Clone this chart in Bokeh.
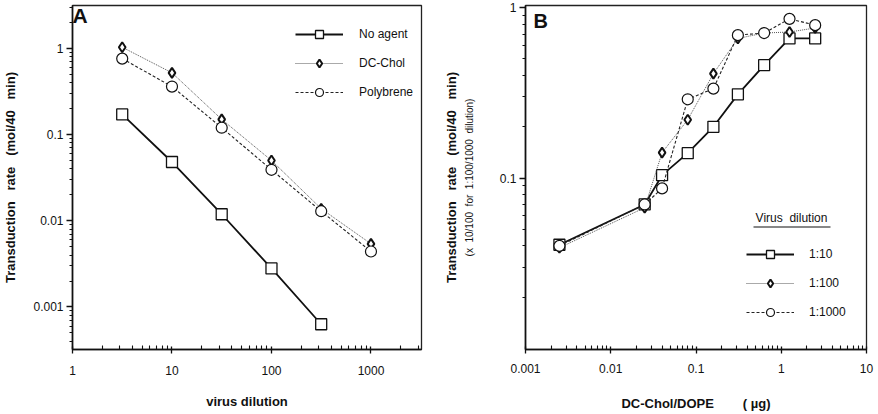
from bokeh.plotting import figure
from bokeh.layouts import row
from bokeh.models import (FixedTicker, NumeralTickFormatter, Legend, LegendItem,
                          Label, LogAxis, BoxAnnotation, Range1d)
from bokeh.embed import file_html
from bokeh.resources import INLINE

FONT = "Liberation Sans"
SP = "\u00a0"  # non-breaking space keeps the wide word gaps in SVG text

# ---- Panel A: transduction rate vs virus dilution ----
dilution = [3.16, 10, 31.6, 100, 316, 1000]
rate_no_agent = [0.171, 0.048, 0.0119, 0.0028, 0.00063]
rate_dc_chol = [1.03, 0.52, 0.15, 0.050, 0.0138, 0.0054]
rate_polybrene = [0.76, 0.36, 0.12, 0.039, 0.0129, 0.0044]

a_x_ticks = [1, 10, 100, 1000]
a_y_ticks = [0.001, 0.01, 0.1, 1]

# ---- Panel B: transduction rate vs DC-Chol/DOPE amount ----
dose = [0.0025, 0.025, 0.04, 0.08, 0.16, 0.31, 0.63, 1.25, 2.5]
rate_1_10 = [0.0406, 0.070, 0.104, 0.14, 0.20, 0.31, 0.46, 0.66, 0.66]
rate_1_100 = [0.039, 0.067, 0.141, 0.22, 0.41, 0.66, 0.71, 0.72, 0.76]
rate_1_1000 = [0.040, 0.070, 0.087, 0.29, 0.335, 0.69, 0.71, 0.86, 0.79]

b_x_ticks = [0.001, 0.01, 0.1, 1, 10]
b_y_ticks = [0.1, 1]


def spaced(*words, gap=3):
    return (SP * gap).join(words)


def minor_decades(lo_exp, hi_exp):
    return [k * 10.0 ** e for e in range(lo_exp, hi_exp) for k in range(2, 10)]


def style(p, x_major, x_minor, y_major, y_minor):
    p.grid.visible = False
    p.outline_line_color = "#222222"
    p.outline_line_width = 1.3
    p.background_fill_color = "white"
    p.border_fill_color = "white"
    for ax in (p.xaxis[0], p.yaxis[0]):
        ax.axis_line_color = "#111111"
        ax.axis_line_width = 1.6
        ax.major_tick_line_color = "#111111"
        ax.minor_tick_line_color = "#111111"
        ax.major_tick_line_width = 1.3
        ax.minor_tick_line_width = 1.1
        ax.major_label_text_font = FONT
        ax.major_label_text_font_size = "12px"
        ax.major_label_text_color = "#111111"
        ax.axis_label_text_font = FONT
        ax.axis_label_text_font_style = "bold"
        ax.axis_label_text_font_size = "13px"
        ax.axis_label_text_color = "#111111"
        ax.formatter = NumeralTickFormatter(format="0.[000]")
    xa = p.xaxis[0]
    xa.ticker = FixedTicker(ticks=x_major, minor_ticks=x_minor)
    xa.major_tick_out = 4
    xa.major_tick_in = 3
    xa.minor_tick_in = 4
    xa.minor_tick_out = 0
    xa.major_label_standoff = 8
    ya = p.yaxis[0]
    ya.ticker = FixedTicker(ticks=y_major, minor_ticks=y_minor)
    ya.major_tick_out = 6
    ya.major_tick_in = 0
    ya.minor_tick_out = 3
    ya.minor_tick_in = 0
    ya.major_label_standoff = 3


def add_series(p, x, y, dash, width, color, marker, size, mwidth):
    ln = p.line(x, y, line_color=color, line_width=width, line_dash=dash)
    sc = p.scatter(x, y, marker=marker, size=size, fill_color="white",
                   line_color="#111111", line_width=mwidth)
    return [ln, sc]


def make_legend(items, loc, standoff):
    return Legend(items=items, location=loc, orientation="vertical",
                  glyph_width=48, glyph_height=20, label_height=20,
                  spacing=9, padding=0, margin=0, label_standoff=standoff,
                  label_text_font=FONT, label_text_font_size="12px",
                  label_text_color="#111111",
                  border_line_alpha=0, background_fill_alpha=0)


# ---------- Figure A ----------
pa = figure(width=440, height=414, x_axis_type="log", y_axis_type="log",
            x_range=Range1d(1, 3220), y_range=Range1d(0.000321, 3.14),
            output_backend="svg", toolbar_location=None,
            min_border_left=69, min_border_right=19,
            min_border_top=5, min_border_bottom=61)
style(pa, a_x_ticks, minor_decades(0, 4), a_y_ticks, minor_decades(-4, 1))
pa.xaxis[0].major_label_standoff = 12
pa.xaxis[0].axis_label = "virus dilution"
pa.xaxis[0].axis_label_standoff = 16
pa.yaxis[0].axis_label = spaced("Transduction", "rate", "(moi/40", "min)")
pa.yaxis[0].axis_label_standoff = 12

r_no = add_series(pa, dilution[:len(rate_no_agent)], rate_no_agent, "solid", 1.8,
                  "#111111", "square", 11, 1.3)
r_dc = add_series(pa, dilution, rate_dc_chol, "1 1", 1.0, "#555555", "diamond", 10, 2.0)
r_pb = add_series(pa, dilution, rate_polybrene, "3 2", 1.1, "#222222", "circle", 11, 1.2)

pa.add_layout(make_legend([LegendItem(label="No agent", renderers=r_no),
                           LegendItem(label="DC-Chol", renderers=r_dc),
                           LegendItem(label="Polybrene", renderers=r_pb)],
                          (223, 247), 16))
pa.add_layout(Label(x=0, y=346, x_units="screen", y_units="screen", text="A",
                    text_font=FONT, text_font_style="bold", text_font_size="21px",
                    text_baseline="top", text_color="#111111"))

# ---------- Figure B ----------
pb = figure(width=438, height=414, x_axis_type="log", y_axis_type="log",
            x_range=Range1d(0.001, 10), y_range=Range1d(0.00986, 1.03),
            output_backend="svg", toolbar_location=None,
            min_border_left=80, min_border_right=12,
            min_border_top=5, min_border_bottom=65)
style(pb, b_x_ticks, minor_decades(-3, 1), b_y_ticks, minor_decades(-2, 0))
pb.xaxis[0].major_label_standoff = 10
pb.xaxis[0].axis_label = "DC-Chol/DOPE" + SP * 8 + "(" + SP + "µg)"
pb.xaxis[0].axis_label_standoff = 20
pb.yaxis[0].axis_label = spaced("(x", "10/100", "for", "1:100/1000", "dilution)", gap=2)
pb.yaxis[0].axis_label_text_font_style = "normal"
pb.yaxis[0].axis_label_text_font_size = "10px"
pb.yaxis[0].axis_label_standoff = 22

outer = LogAxis(ticker=FixedTicker(ticks=[]), axis_line_color=None,
                major_tick_line_color=None, minor_tick_line_color=None,
                major_label_text_font_size="0px",
                axis_label=spaced("Transduction", "rate", "(moi/40", "min)"),
                axis_label_text_font=FONT, axis_label_text_font_style="bold",
                axis_label_text_font_size="13px", axis_label_text_color="#111111",
                axis_label_standoff=2)
pb.add_layout(outer, "left")

r10 = add_series(pb, dose, rate_1_10, "solid", 1.8, "#111111", "square", 11, 1.3)
r100 = add_series(pb, dose, rate_1_100, "1 1", 1.0, "#555555", "diamond", 10, 2.0)
r1000 = add_series(pb, dose, rate_1_1000, "3 2", 1.1, "#222222", "circle", 11, 1.2)

pb.add_layout(make_legend([LegendItem(label="1:10", renderers=r10),
                           LegendItem(label="1:100", renderers=r100),
                           LegendItem(label="1:1000", renderers=r1000)],
                          (221, 27), 15))
pb.add_layout(Label(x=266, y=132, x_units="screen", y_units="screen",
                    text=spaced("Virus", "dilution", gap=2), text_font=FONT,
                    text_font_size="12px", text_align="center",
                    text_baseline="middle", text_color="#111111"))
pb.add_layout(BoxAnnotation(left=228, right=305, bottom=122, top=123,
                            left_units="screen", right_units="screen",
                            bottom_units="screen", top_units="screen",
                            fill_color="#111111", fill_alpha=1, line_alpha=0))
pb.add_layout(Label(x=8, y=340, x_units="screen", y_units="screen", text="B",
                    text_font=FONT, text_font_style="bold", text_font_size="20px",
                    text_baseline="top", text_color="#111111"))

layout = row(pa, pb)
open("out.html", "w").write(file_html(layout, INLINE))
